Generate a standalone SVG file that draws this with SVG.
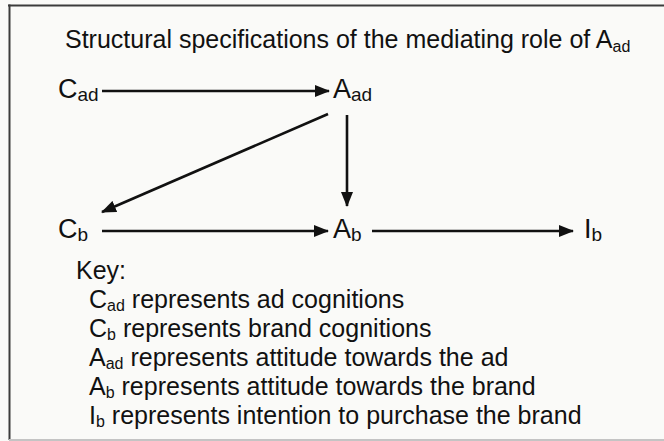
<svg xmlns="http://www.w3.org/2000/svg" width="664" height="441" viewBox="0 0 664 441">
  <style>
    text { font-family: "Liberation Sans", Arial, sans-serif; fill: #111; }
    .title { font-size: 25px; }
    .node { font-size: 27px; }
    .key { font-size: 25px; }
    .sub { font-size: 19px; }
    .ksub { font-size: 16px; }
    .conn { stroke: #111; stroke-width: 2.6; fill: none; }
  </style>
  <defs>
    <marker id="arrow" viewBox="0 0 15 12" refX="14" refY="6" markerWidth="15" markerHeight="12" markerUnits="userSpaceOnUse" orient="auto">
      <path d="M0,0 L15,6 L0,12 Z" fill="#111"/>
    </marker>
  </defs>

  <!-- background and frame -->
  <rect x="0" y="0" width="664" height="441" fill="#fafaf8"/>
  <line x1="8" y1="5.5" x2="664" y2="5.5" stroke="#3c3c3c" stroke-width="2"/>
  <line x1="9.5" y1="4.5" x2="9.5" y2="440" stroke="#3c3c3c" stroke-width="2"/>
  <line x1="9" y1="440" x2="664" y2="440" stroke="#c4c4c4" stroke-width="2"/>

  <text class="title" x="65" y="48">Structural specifications of the mediating role of A<tspan class="ksub" dy="4">ad</tspan></text>

  <g id="connectors">
    <line class="conn" x1="102" y1="91" x2="329" y2="91" marker-end="url(#arrow)"/>
    <line class="conn" x1="347" y1="115" x2="347" y2="206" marker-end="url(#arrow)"/>
    <line class="conn" x1="328" y1="114" x2="102" y2="212" marker-end="url(#arrow)"/>
    <line class="conn" x1="102" y1="231" x2="328" y2="231" marker-end="url(#arrow)"/>
    <line class="conn" x1="372" y1="231" x2="573" y2="231" marker-end="url(#arrow)"/>
  </g>

  <g id="node-cad"><text class="node" x="58" y="98">C<tspan class="sub" dy="3">ad</tspan></text></g>
  <g id="node-aad"><text class="node" x="333" y="98">A<tspan class="sub" dy="3">ad</tspan></text></g>
  <g id="node-cb"><text class="node" x="58" y="238">C<tspan class="sub" dy="3">b</tspan></text></g>
  <g id="node-ab"><text class="node" x="333" y="238">A<tspan class="sub" dy="3">b</tspan></text></g>
  <g id="node-ib"><text class="node" x="584" y="238">I<tspan class="sub" dy="3">b</tspan></text></g>

  <g id="key">
    <text class="key" x="76" y="279">Key:</text>
    <text class="key" x="89" y="308">C<tspan class="ksub" dy="3">ad</tspan><tspan dy="-3"> represents ad cognitions</tspan></text>
    <text class="key" x="89" y="337">C<tspan class="ksub" dy="3">b</tspan><tspan dy="-3"> represents brand cognitions</tspan></text>
    <text class="key" x="89" y="366">A<tspan class="ksub" dy="3">ad</tspan><tspan dy="-3"> represents attitude towards the ad</tspan></text>
    <text class="key" x="89" y="395">A<tspan class="ksub" dy="3">b</tspan><tspan dy="-3"> represents attitude towards the brand</tspan></text>
    <text class="key" x="89" y="424">I<tspan class="ksub" dy="3">b</tspan><tspan dy="-3"> represents intention to purchase the brand</tspan></text>
  </g>
</svg>
